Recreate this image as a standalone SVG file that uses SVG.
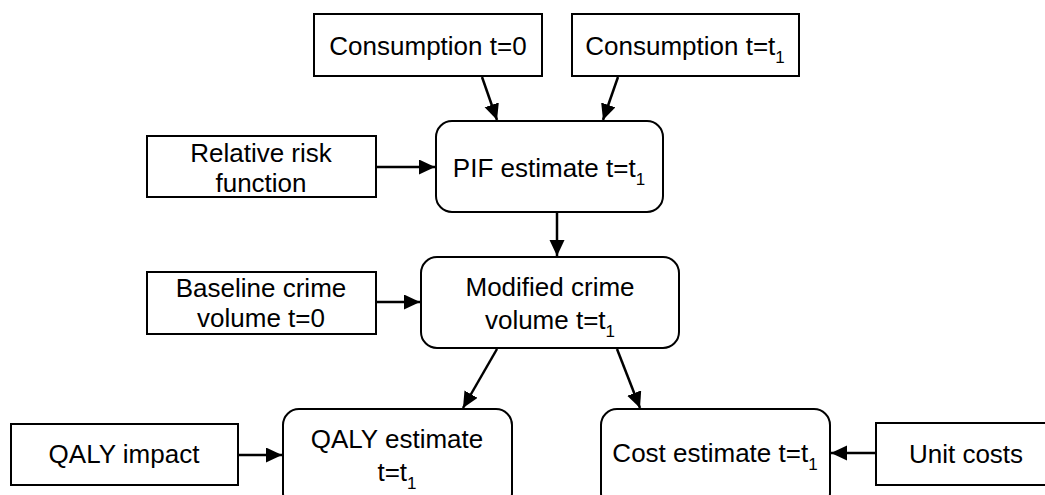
<svg xmlns="http://www.w3.org/2000/svg" width="1045" height="495" viewBox="0 0 1045 495">
<style>
.box{fill:#fff;stroke:#000;stroke-width:2}
.t{font-family:"Liberation Sans",Arial,sans-serif;font-size:26px;fill:#000;text-anchor:middle}
.sub{font-size:17px}
.c{stroke:#000;stroke-width:2.5;fill:none;marker-end:url(#ah)}
</style>
<defs>
<marker id="ah" markerUnits="userSpaceOnUse" markerWidth="18" markerHeight="16" refX="16" refY="7.5" orient="auto">
<path d="M0,0 L16,7.5 L0,15 Z" fill="#000"/>
</marker>
</defs>
<rect width="1045" height="495" fill="#fff"/>
<g id="connectors">
<line class="c" x1="482" y1="77" x2="497" y2="120"/>
<line class="c" x1="618" y1="77" x2="603" y2="120"/>
<line class="c" x1="377" y1="167" x2="435" y2="167"/>
<line class="c" x1="557" y1="213" x2="557" y2="256"/>
<line class="c" x1="377" y1="302" x2="420" y2="302"/>
<line class="c" x1="497" y1="349" x2="463" y2="408"/>
<line class="c" x1="617" y1="349" x2="640" y2="408"/>
<line class="c" x1="239" y1="455" x2="282" y2="455"/>
<line class="c" x1="876" y1="453" x2="831" y2="453"/>
</g>
<g id="cons0">
<rect class="box" x="314" y="14" width="228" height="62"/>
<text class="t" x="428" y="55">Consumption t=0</text>
</g>
<g id="cons1">
<rect class="box" x="572" y="14" width="227" height="62"/>
<text class="t" x="685" y="55">Consumption t=t<tspan class="sub" dy="8">1</tspan></text>
</g>
<g id="rrf">
<rect class="box" x="147" y="136" width="229" height="61"/>
<text class="t" x="261" y="162">Relative risk</text>
<text class="t" x="261" y="192">function</text>
</g>
<g id="pif">
<rect class="box" x="436" y="121" width="227" height="91" rx="16"/>
<text class="t" x="549" y="177">PIF estimate t=t<tspan class="sub" dy="8">1</tspan></text>
</g>
<g id="baseline">
<rect class="box" x="147" y="272" width="229" height="62"/>
<text class="t" x="261" y="297">Baseline crime</text>
<text class="t" x="261" y="327">volume t=0</text>
</g>
<g id="modified">
<rect class="box" x="421" y="257" width="258" height="91" rx="16"/>
<text class="t" x="550" y="296">Modified crime</text>
<text class="t" x="550" y="329">volume t=t<tspan class="sub" dy="8">1</tspan></text>
</g>
<g id="qalyimpact">
<rect class="box" x="11" y="424" width="227" height="61"/>
<text class="t" x="124" y="463">QALY impact</text>
</g>
<g id="qalyest">
<rect class="box" x="283" y="409" width="229" height="100" rx="16"/>
<text class="t" x="397" y="448">QALY estimate</text>
<text class="t" x="397" y="481">t=t<tspan class="sub" dy="8">1</tspan></text>
</g>
<g id="costest">
<rect class="box" x="601" y="409" width="229" height="100" rx="16"/>
<text class="t" x="715" y="462">Cost estimate t=t<tspan class="sub" dy="8">1</tspan></text>
</g>
<g id="unitcosts">
<rect class="box" x="876" y="423" width="190" height="62"/>
<text class="t" x="966" y="463">Unit costs</text>
</g>
</svg>
